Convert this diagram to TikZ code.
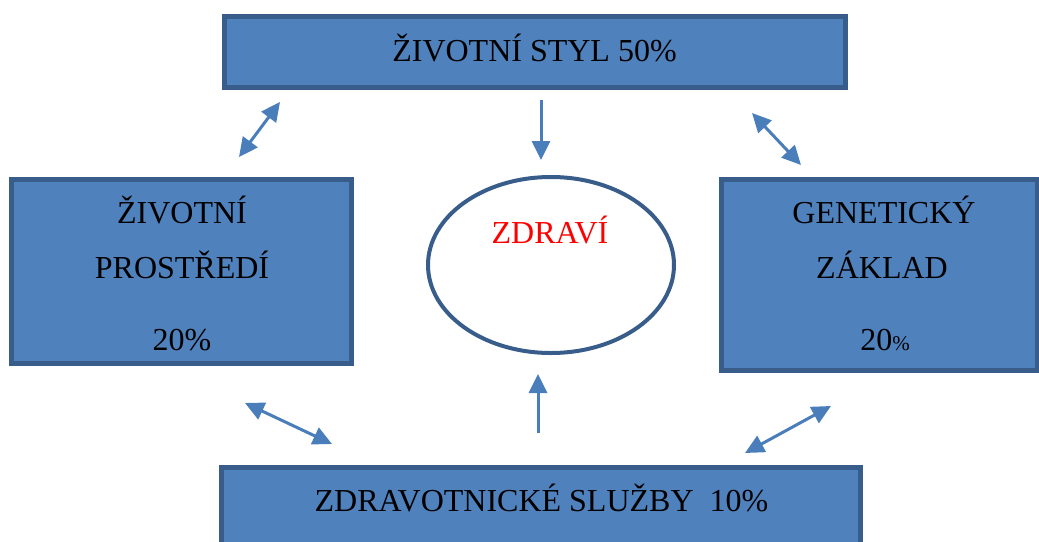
\documentclass[tikz,border=0pt]{standalone}
\usepackage{fontspec}
\setmainfont{Liberation Serif}
\usetikzlibrary{arrows.meta}
\definecolor{boxfill}{HTML}{4F81BD}
\definecolor{boxedge}{HTML}{385D8A}
\definecolor{arrowcol}{HTML}{4A7EBB}
\tikzset{
  blockbox/.style={draw=boxedge, fill=boxfill, line width=5pt},
  txt/.style={font=\fontsize{32}{38}\selectfont, text=black, anchor=base, inner sep=0pt},
  conn/.style={draw=arrowcol, line width=3pt, -{Triangle[length=19pt,width=18pt]}},
  dconn/.style={draw=arrowcol, line width=3pt, {Triangle[length=19pt,width=18pt]}-{Triangle[length=19pt,width=18pt]}},
}
\begin{document}
\begin{tikzpicture}[x=1pt,y=-1pt]
\useasboundingbox (0,0) rectangle (1039,541);
% boxes
\draw[blockbox] (224.5,16.5) rectangle (845.5,87.5);
\draw[blockbox] (11.5,179.5) rectangle (351.5,363.5);
\draw[blockbox] (721.5,179.5) rectangle (1037.5,370.5);
\draw[blockbox] (221.5,467.5) rectangle (860.5,548);
% ellipse
\draw[boxedge, line width=4pt] (551,265) ellipse [x radius=123, y radius=88];
% texts
\node[txt] (t1) at (534.5,61) {ŽIVOTNÍ STYL 50\%};
\node[txt] (l1) at (182,223) {ŽIVOTNÍ};
\node[txt] (l2) at (182,278) {PROSTŘEDÍ};
\node[txt] (l3) at (182,350) {20\%};
\node[txt] (r1) at (884,223) {GENETICKÝ};
\node[txt] (r2) at (882,278) {ZÁKLAD};
\node[txt] (r3) at (885,350) {20{\fontsize{21}{25}\selectfont\%}};
\node[txt] (b1) at (541.5,511) {ZDRAVOTNICKÉ SLUŽBY \ 10\%};
\node[txt, text={rgb,255:red,255;green,0;blue,0}] (z) at (550,243) {ZDRAVÍ};
% connector ends
\coordinate (a1s) at (239,157); \coordinate (a1e) at (280,102);
\coordinate (a2s) at (541,100); \coordinate (a2e) at (541,160);
\coordinate (a3s) at (752,113); \coordinate (a3e) at (801,165);
\coordinate (a4s) at (245,403); \coordinate (a4e) at (332,444);
\coordinate (a5s) at (538,433); \coordinate (a5e) at (538,374);
\coordinate (a6s) at (745,453); \coordinate (a6e) at (831,406);
\draw[dconn] (a1s) -- (a1e);
\draw[conn] (a2s) -- (a2e);
\draw[dconn] (a3s) -- (a3e);
\draw[dconn] (a4s) -- (a4e);
\draw[conn] (a5s) -- (a5e);
\draw[dconn] (a6s) -- (a6e);
\end{tikzpicture}
\end{document}
